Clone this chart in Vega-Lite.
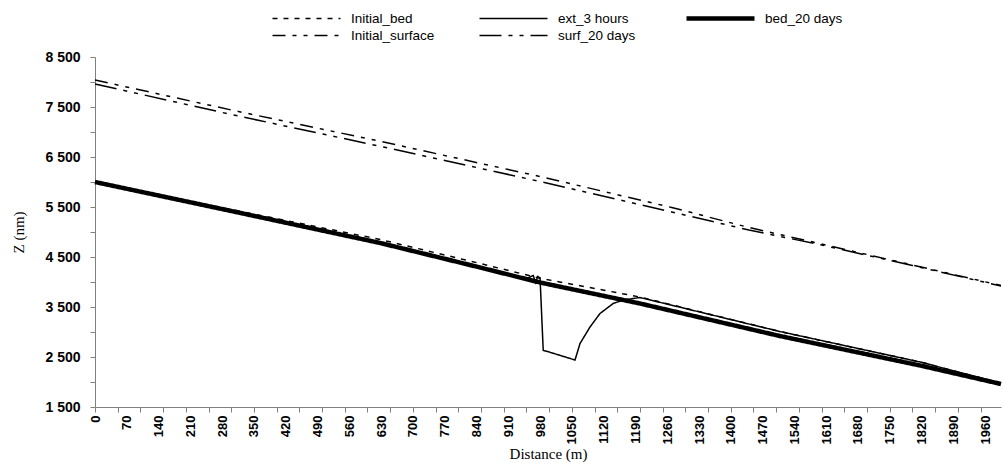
{
  "$schema": "https://vega.github.io/schema/vega-lite/v6.json",
  "width": 906,
  "height": 350,
  "autosize": {"type": "none"},
  "padding": {"left": 95, "top": 57, "right": 2, "bottom": 56},
  "background": "white",
  "config": {
    "view": {"stroke": null},
    "axis": {"grid": false}
  },
  "data": {
    "values": [
      {"series": "Initial_surface", "d": 0, "z": 8040},
      {"series": "Initial_surface", "d": 300, "z": 7440},
      {"series": "Initial_surface", "d": 630, "z": 6810},
      {"series": "Initial_surface", "d": 980, "z": 6110},
      {"series": "Initial_surface", "d": 1270, "z": 5490},
      {"series": "Initial_surface", "d": 1440, "z": 5090},
      {"series": "Initial_surface", "d": 1600, "z": 4760},
      {"series": "Initial_surface", "d": 1800, "z": 4340},
      {"series": "Initial_surface", "d": 1995, "z": 3930},
      {"series": "surf_20 days", "d": 0, "z": 7960},
      {"series": "surf_20 days", "d": 300, "z": 7350},
      {"series": "surf_20 days", "d": 630, "z": 6710},
      {"series": "surf_20 days", "d": 980, "z": 6010},
      {"series": "surf_20 days", "d": 1270, "z": 5400},
      {"series": "surf_20 days", "d": 1440, "z": 5040},
      {"series": "surf_20 days", "d": 1600, "z": 4740},
      {"series": "surf_20 days", "d": 1800, "z": 4330},
      {"series": "surf_20 days", "d": 1995, "z": 3920},
      {"series": "Initial_bed", "d": 0, "z": 6000},
      {"series": "Initial_bed", "d": 300, "z": 5450},
      {"series": "Initial_bed", "d": 628, "z": 4850},
      {"series": "Initial_bed", "d": 848, "z": 4370},
      {"series": "Initial_bed", "d": 980, "z": 4075},
      {"series": "Initial_bed", "d": 1200, "z": 3700},
      {"series": "Initial_bed", "d": 1508, "z": 3010},
      {"series": "Initial_bed", "d": 1817, "z": 2400},
      {"series": "Initial_bed", "d": 1995, "z": 1975},
      {"series": "ext_3 hours", "d": 0, "z": 6000},
      {"series": "ext_3 hours", "d": 300, "z": 5430},
      {"series": "ext_3 hours", "d": 628, "z": 4800},
      {"series": "ext_3 hours", "d": 848, "z": 4310},
      {"series": "ext_3 hours", "d": 950, "z": 4070},
      {"series": "ext_3 hours", "d": 965, "z": 4130},
      {"series": "ext_3 hours", "d": 970, "z": 3990},
      {"series": "ext_3 hours", "d": 975, "z": 4110},
      {"series": "ext_3 hours", "d": 980, "z": 4080},
      {"series": "ext_3 hours", "d": 987, "z": 2630},
      {"series": "ext_3 hours", "d": 1000, "z": 2600},
      {"series": "ext_3 hours", "d": 1057, "z": 2440},
      {"series": "ext_3 hours", "d": 1068, "z": 2770},
      {"series": "ext_3 hours", "d": 1090, "z": 3100},
      {"series": "ext_3 hours", "d": 1112, "z": 3370},
      {"series": "ext_3 hours", "d": 1141, "z": 3570},
      {"series": "ext_3 hours", "d": 1163, "z": 3640},
      {"series": "ext_3 hours", "d": 1200, "z": 3690},
      {"series": "ext_3 hours", "d": 1508, "z": 3010},
      {"series": "ext_3 hours", "d": 1817, "z": 2400},
      {"series": "ext_3 hours", "d": 1995, "z": 1975},
      {"series": "bed_20 days", "d": 0, "z": 6000},
      {"series": "bed_20 days", "d": 300, "z": 5420},
      {"series": "bed_20 days", "d": 628, "z": 4780},
      {"series": "bed_20 days", "d": 848, "z": 4290},
      {"series": "bed_20 days", "d": 980, "z": 3990},
      {"series": "bed_20 days", "d": 1200, "z": 3570},
      {"series": "bed_20 days", "d": 1508, "z": 2920},
      {"series": "bed_20 days", "d": 1817, "z": 2330},
      {"series": "bed_20 days", "d": 1995, "z": 1960}
    ]
  },
  "mark": {"type": "line", "interpolate": "linear"},
  "encoding": {
    "x": {
      "field": "d",
      "type": "quantitative",
      "scale": {"domain": [0, 1995], "nice": false, "zero": false},
      "axis": {
        "title": "Distance (m)",
        "titleFont": "Liberation Serif",
        "titleFontSize": 15,
        "titleFontWeight": "normal",
        "titleColor": "black",
        "titleY": 51,
        "titleBaseline": "alphabetic",
        "values": [0,50,70,100,140,150,200,210,250,280,300,350,400,420,450,490,500,550,560,600,630,650,700,750,770,800,840,850,900,910,950,980,1000,1050,1100,1120,1150,1190,1200,1250,1260,1300,1330,1350,1400,1450,1470,1500,1540,1550,1600,1610,1650,1680,1700,1750,1800,1820,1850,1890,1900,1950,1960],
        "format": "d",
        "labelExpr": "datum.value % 70 === 0 ? datum.label : ''",
        "labelAngle": 270,
        "labelFont": "Liberation Sans",
        "labelFontSize": 13,
        "labelFontWeight": "bold",
        "labelColor": "black",
        "labelPadding": 3,
        "labelOverlap": false,
        "labelFlush": false,
        "tickSize": 5,
        "tickColor": "#808080",
        "tickOpacity": {"condition": {"test": "datum.value % 50 === 0", "value": 1}, "value": 0},
        "domainColor": "#808080"
      }
    },
    "y": {
      "field": "z",
      "type": "quantitative",
      "scale": {"domain": [1500, 8500], "nice": false, "zero": false},
      "axis": {
        "title": "Z (nm)",
        "titleFont": "Liberation Serif",
        "titleFontSize": 15,
        "titleFontWeight": "normal",
        "titleColor": "black",
        "titlePadding": 18,
        "values": [1500,2000,2500,3000,3500,4000,4500,5000,5500,6000,6500,7000,7500,8000,8500],
        "labelExpr": "datum.value % 1000 === 500 ? replace(format(datum.value, ','), ',', ' ') : ''",
        "labelFont": "Liberation Sans",
        "labelFontSize": 14,
        "labelFontWeight": "bold",
        "labelColor": "black",
        "labelPadding": 10,
        "labelOverlap": false,
        "tickSize": 5,
        "tickColor": "#808080",
        "domainColor": "#808080"
      }
    },
    "detail": {"field": "series"},
    "color": {
      "field": "series",
      "type": "nominal",
      "scale": {
        "domain": ["Initial_bed", "ext_3 hours", "bed_20 days", "Initial_surface", "surf_20 days"],
        "range": ["black", "black", "black", "black", "black"]
      },
      "legend": {
        "title": null,
        "orient": "none",
        "legendX": 175,
        "legendY": -46,
        "columns": 3,
        "direction": "horizontal",
        "gridAlign": "all",
        "columnPadding": 42,
        "rowPadding": 2,
        "clipHeight": 15,
        "padding": 0,
        "symbolType": "stroke",
        "symbolSize": 4624,
        "labelOffset": 8,
        "labelFont": "Liberation Sans",
        "labelFontSize": 13.5,
        "labelColor": "black"
      }
    },
    "strokeDash": {
      "field": "series",
      "type": "nominal",
      "scale": {
        "domain": ["Initial_bed", "ext_3 hours", "bed_20 days", "Initial_surface", "surf_20 days"],
        "range": [[5, 6], [1, 0], [1, 0], [13, 7, 4, 7, 4, 7], [22, 7, 4, 7, 4, 7]]
      },
      "legend": null
    },
    "strokeWidth": {
      "field": "series",
      "type": "nominal",
      "scale": {
        "type": "ordinal",
        "domain": ["Initial_bed", "ext_3 hours", "bed_20 days", "Initial_surface", "surf_20 days"],
        "range": [1.5, 1.5, 4.5, 1.5, 1.5]
      },
      "legend": null
    }
  }
}
